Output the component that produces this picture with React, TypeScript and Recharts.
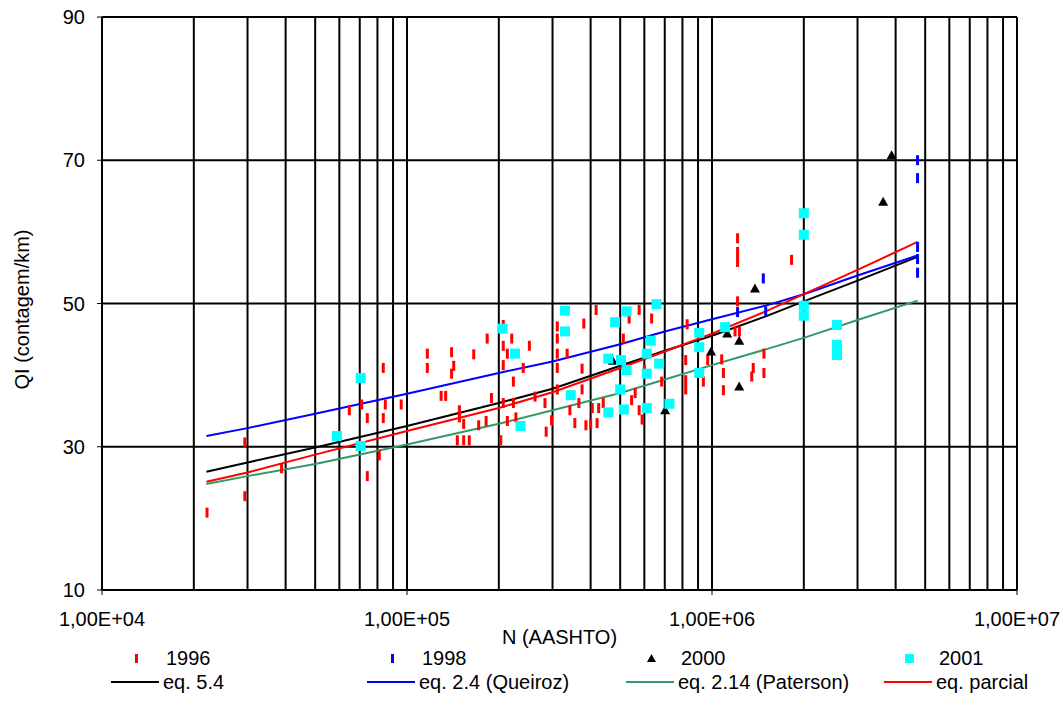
import React from "react";
import { ComposedChart, Line, ReferenceLine, Scatter, XAxis, YAxis } from "recharts";

// N (AASHTO) values where the fitted curves were sampled
const curveN = [2.2e4, 3e4, 5e4, 1e5, 2e5, 3e5, 5e5, 7e5, 1e6, 1.5e6, 2e6, 3e6, 4.72e6];
const eq54 = [26.5, 27.8, 29.9, 32.9, 36.1, 38.1, 41.3, 43.4, 45.5, 48.2, 50.3, 53.2, 56.5];
const eqQueiroz = [31.5, 32.6, 34.6, 37.4, 40.3, 41.9, 44.3, 46.1, 47.8, 49.7, 51.3, 53.9, 56.7];
const eqPaterson = [24.8, 25.9, 27.6, 30.3, 33.2, 35.1, 37.5, 39.4, 41.4, 43.6, 45.2, 47.7, 50.4];
const eqParcial = [25.1, 26.4, 28.9, 32.2, 35.4, 37.6, 41.0, 43.3, 45.8, 48.9, 51.3, 54.7, 58.6];

// observations [N, QI]
const obs1996: [number, number][] = [
  [22100, 20.8], [29400, 30.6], [29400, 23.1], [38800, 27.0], [64700, 35.1], [71000, 35.9],
  [74100, 34.0], [74100, 25.9], [83600, 41.0], [83600, 34.0], [81100, 28.8], [84900, 35.9],
  [95700, 35.9], [116600, 43.0], [116600, 41.0], [129400, 37.1], [133900, 37.1], [140000, 43.2],
  [142300, 41.3], [140000, 40.2], [148500, 35.1], [148500, 34.1], [153400, 33.2], [146200, 30.9],
  [153400, 30.9], [160000, 30.9], [165500, 42.9], [171800, 33.0], [183200, 45.1], [189200, 36.8],
  [181700, 33.6], [206800, 47.0], [206800, 44.1], [220500, 45.1], [213300, 43.0], [206800, 41.4],
  [223300, 39.1], [251900, 44.1], [240500, 41.0], [206800, 36.1], [213300, 33.6], [223300, 36.1],
  [227500, 34.1], [203000, 30.9], [263000, 37.0], [283400, 36.1], [286000, 32.1], [311000, 46.8],
  [311000, 45.1], [311000, 43.0], [335000, 43.0], [311000, 41.0], [297700, 33.7], [342000, 35.1],
  [355000, 33.3], [366000, 36.1], [386000, 33.0], [375000, 40.9], [380000, 47.2], [400000, 33.2],
  [405000, 35.4], [417000, 49.1], [425000, 35.4], [420000, 33.3], [440000, 36.1], [577000, 49.1],
  [535000, 47.9], [560000, 37.5], [577000, 35.1], [600000, 40.7], [545000, 36.5], [311000, 38.0],
  [375000, 38.0], [512000, 45.1], [590000, 33.8], [634000, 47.9], [829000, 47.1], [820000, 42.1],
  [820000, 39.3], [820000, 38.0], [684000, 39.1], [937000, 39.1], [968000, 42.1], [1076000, 42.2],
  [1090000, 40.3], [1090000, 37.9], [1213000, 59.1], [1213000, 57.2], [1213000, 55.8],
  [1213000, 50.3], [1190000, 46.1], [1230000, 46.1], [1365000, 41.0], [1350000, 39.8],
  [1480000, 43.0], [1480000, 40.3], [1823000, 56.1],
];
const obs1998: [number, number][] = [
  [1213000, 48.8], [1473000, 53.5], [1500000, 48.9], [4720000, 70.0], [4720000, 67.5],
  [4720000, 57.9], [4720000, 56.2], [4720000, 54.3],
];
const obs2000: [number, number][] = [
  [473000, 42.0], [702000, 35.1], [993000, 43.3], [1122000, 45.8], [1228000, 44.8],
  [1228000, 38.4], [1383000, 52.1], [3640000, 64.2], [3880000, 70.7],
];
const obs2001: [number, number][] = [
  [58900, 31.5], [70500, 39.6], [70500, 30.1], [205800, 46.5], [225900, 43.0], [235500, 32.9],
  [329600, 49.0], [329600, 46.1], [344400, 37.2], [457000, 42.3], [457000, 34.8], [481000, 47.4],
  [503000, 42.1], [500000, 38.0], [514000, 35.2], [525000, 48.9], [525000, 40.7], [611000, 43.0],
  [611000, 40.2], [611000, 35.4], [630000, 44.8], [657700, 49.9], [671000, 41.6], [725000, 36.0],
  [908000, 45.9], [908000, 43.9], [908000, 40.3], [1104000, 46.7], [2000000, 62.6],
  [2000000, 59.6], [2000000, 49.7], [2000000, 48.3], [2570000, 47.0], [2570000, 44.2],
  [2570000, 42.8],
];

const xTicks = [1e4, 1e5, 1e6, 1e7];
const yTicks = [10, 30, 50, 70, 90];
const yGrid = [30, 50, 70, 90];

const FONT = '"Liberation Sans", Arial, sans-serif';

const toRows = (pairs: [number, number][]) => pairs.map(([n, qi]) => ({ n, qi }));
const curve = (vals: number[]) => curveN.map((n, i) => ({ n, qi: vals[i] }));

// grid at every 2..9 x 10^k, plus the right border
const minorX: number[] = [];
[1e4, 1e5, 1e6].forEach((d) => {
  for (let m = 2; m <= 10; m++) minorX.push(m * d);
});

const dash = (color: string) => (p: any) => (
  <rect x={p.cx - 1.5} y={p.cy - 5} width={3} height={10} fill={color} />
);
const triangle = (p: any) => (
  <polygon points={`${p.cx},${p.cy - 5} ${p.cx + 5},${p.cy + 4} ${p.cx - 5},${p.cy + 4}`} fill="#000" />
);
const square = (p: any) => <rect x={p.cx - 5} y={p.cy - 5} width={10} height={10} fill="#00ffff" />;

const fmtX = (v: number) => "1,00E+" + String(Math.round(Math.log10(v))).padStart(2, "0");

const cols = [111, 367, 626, 884];
const markerItems = [
  { label: "1996", mark: <rect x={8} y={5} width={3} height={9} fill="#ff0000" /> },
  { label: "1998", mark: <rect x={8} y={5} width={3} height={9} fill="#0000ff" /> },
  { label: "2000", mark: <polygon points="9.5,5 14,13 5,13" fill="#000" /> },
  { label: "2001", mark: <rect x={5} y={5} width={9} height={9} fill="#00ffff" /> },
];
const lineItems = [
  { label: "eq. 5.4", color: "#000000" },
  { label: "eq. 2.4 (Queiroz)", color: "#0000ff" },
  { label: "eq. 2.14 (Paterson)", color: "#339966" },
  { label: "eq. parcial", color: "#ff0000" },
];

const legendText: React.CSSProperties = {
  position: "absolute",
  fontSize: 20,
  lineHeight: "24px",
  color: "#000",
  whiteSpace: "nowrap",
};

export default function App() {
  return (
    <div style={{ position: "absolute", left: 0, top: 0, width: 1063, height: 722, background: "#fff", fontFamily: FONT }}>
      <ComposedChart width={1063} height={722} margin={{ top: 17, right: 46, bottom: 72, left: 0 }}>
        <XAxis
          dataKey="n"
          type="number"
          scale="log"
          domain={[1e4, 1e7]}
          ticks={xTicks}
          tickFormatter={fmtX}
          allowDataOverflow
          height={60}
          tickSize={5}
          tickMargin={17}
          axisLine={{ stroke: "#000", strokeWidth: 2 }}
          tickLine={{ stroke: "#000" }}
          tick={{ fill: "#000", fontSize: 20, fontFamily: FONT }}
          label={{ value: "N (AASHTO)", position: "insideBottom", offset: 6, fill: "#000", fontSize: 20, fontFamily: FONT }}
        />
        <YAxis
          dataKey="qi"
          type="number"
          domain={[10, 90]}
          ticks={yTicks}
          width={102}
          tickSize={5}
          tickMargin={12}
          axisLine={{ stroke: "#000", strokeWidth: 2 }}
          tickLine={{ stroke: "#000" }}
          tick={{ fill: "#000", fontSize: 20, fontFamily: FONT }}
          label={{
            value: "QI (contagem/km)",
            angle: -90,
            position: "insideLeft",
            offset: 22,
            dy: 6,
            fill: "#000",
            fontSize: 20,
            fontFamily: FONT,
            style: { textAnchor: "middle" },
          }}
        />
        {minorX.map((v) => (
          <ReferenceLine key={"x" + v} x={v} stroke="#000" strokeWidth={2} />
        ))}
        {yGrid.map((v) => (
          <ReferenceLine key={"y" + v} y={v} stroke="#000" strokeWidth={2} />
        ))}
        <Scatter name="1996" data={toRows(obs1996)} dataKey="qi" shape={dash("#ff0000")} isAnimationActive={false} />
        <Scatter name="1998" data={toRows(obs1998)} dataKey="qi" shape={dash("#0000ff")} isAnimationActive={false} />
        <Scatter name="2000" data={toRows(obs2000)} dataKey="qi" shape={triangle} isAnimationActive={false} />
        <Scatter name="2001" data={toRows(obs2001)} dataKey="qi" shape={square} isAnimationActive={false} />
        <Line data={curve(eq54)} dataKey="qi" stroke="#000000" strokeWidth={2} dot={false} type="linear" isAnimationActive={false} />
        <Line data={curve(eqQueiroz)} dataKey="qi" stroke="#0000ff" strokeWidth={2} dot={false} type="linear" isAnimationActive={false} />
        <Line data={curve(eqPaterson)} dataKey="qi" stroke="#339966" strokeWidth={2} dot={false} type="linear" isAnimationActive={false} />
        <Line data={curve(eqParcial)} dataKey="qi" stroke="#ff0000" strokeWidth={2} dot={false} type="linear" isAnimationActive={false} />
      </ComposedChart>

      {markerItems.map((it, i) => (
        <React.Fragment key={it.label}>
          <svg style={{ position: "absolute", left: cols[i] + 16, top: 649 }} width={19} height={19}>
            {it.mark}
          </svg>
          <span style={{ ...legendText, left: cols[i] + 55, top: 646 }}>{it.label}</span>
        </React.Fragment>
      ))}
      {lineItems.map((it, i) => (
        <React.Fragment key={it.label}>
          <svg style={{ position: "absolute", left: cols[i], top: 677 }} width={48} height={10}>
            <line x1={0} y1={5} x2={48} y2={5} stroke={it.color} strokeWidth={2} />
          </svg>
          <span style={{ ...legendText, left: cols[i] + 52, top: 670 }}>{it.label}</span>
        </React.Fragment>
      ))}
    </div>
  );
}
